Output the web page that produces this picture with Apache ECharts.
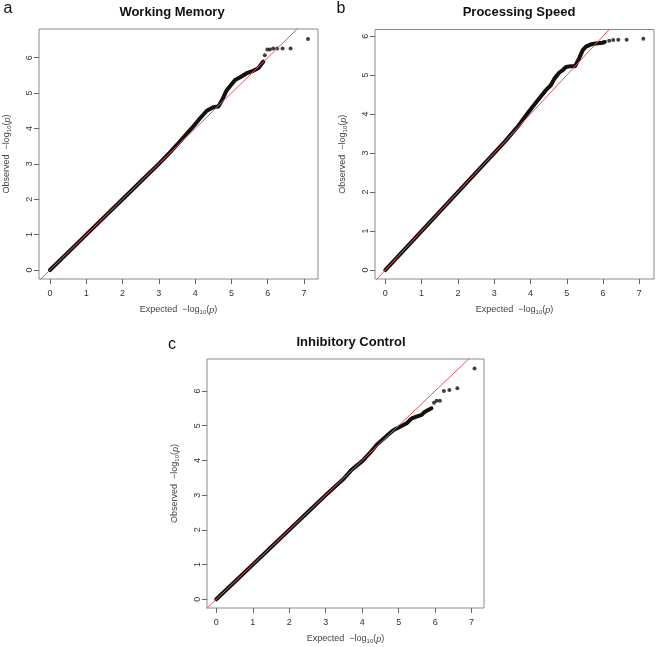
<!DOCTYPE html>
<html>
<head>
<meta charset="utf-8">
<script src="https://cdn.jsdelivr.net/npm/echarts@6/dist/echarts.min.js"></script>
<style>
  html, body { margin: 0; padding: 0; background: #fff; }
  #qq-chart { width: 656px; height: 647px; }
</style>
</head>
<body>
<div id="qq-chart"></div>
<script>
// expected vs observed -log10(p)
var wmExpected = [0, 0.5, 1, 1.5, 2, 2.5, 3, 3.3, 3.5, 3.9, 4.13, 4.32, 4.5, 4.64, 4.73, 4.87, 5.1, 5.23, 5.42, 5.6, 5.74, 5.88];
var wmObserved = [0, 0.5, 1, 1.5, 2, 2.5, 3, 3.32, 3.54, 4.0, 4.28, 4.5, 4.6, 4.62, 4.78, 5.08, 5.37, 5.44, 5.56, 5.63, 5.7, 5.89];
var wmTailExpected = [5.92, 5.99, 6.06, 6.15, 6.26, 6.41, 6.63, 7.11];
var wmTailObserved = [6.07, 6.23, 6.23, 6.26, 6.26, 6.26, 6.26, 6.53];

var psExpected = [0, 0.5, 1, 1.5, 2, 2.5, 3, 3.3, 3.65, 3.88, 4.06, 4.24, 4.43, 4.56, 4.66, 4.79, 4.89, 4.98, 5.11, 5.23, 5.34, 5.44, 5.53, 5.67, 5.8, 5.99, 6.05];
var psObserved = [0, 0.5, 1, 1.5, 2, 2.5, 3, 3.3, 3.68, 3.97, 4.19, 4.4, 4.62, 4.74, 4.91, 5.06, 5.13, 5.21, 5.23, 5.23, 5.43, 5.64, 5.73, 5.79, 5.81, 5.83, 5.85];
var psTailExpected = [6.17, 6.28, 6.42, 6.65, 7.11];
var psTailObserved = [5.88, 5.9, 5.91, 5.91, 5.93];

var icExpected = [0, 0.5, 1, 1.5, 2, 2.5, 3, 3.5, 3.7, 4.0, 4.2, 4.4, 4.67, 4.85, 5.04, 5.22, 5.36, 5.49, 5.63, 5.72, 5.81, 5.9];
var icObserved = [0, 0.5, 1, 1.5, 2, 2.5, 3, 3.48, 3.72, 3.98, 4.2, 4.45, 4.7, 4.87, 4.97, 5.07, 5.21, 5.26, 5.31, 5.4, 5.45, 5.5];
var icTailExpected = [5.97, 6.04, 6.13, 6.24, 6.39, 6.61, 7.08];
var icTailObserved = [5.66, 5.72, 5.72, 6.0, 6.03, 6.08, 6.65];

// tick range shown on each axis (first, last)
var xTickRange = [0, 7];
var yTickRangeA = [0, 6];
var yTickRangeB = [0, 6];
var yTickRangeC = [0, 6];

var panelTitles = ['Working Memory', 'Processing Speed', 'Inhibitory Control'];
var panelLetters = ['a', 'b', 'c'];

function pairs(xs, ys) {
    return xs.map(function (x, i) { return [x, ys[i]]; });
}

var font = 'Liberation Sans, Arial, sans-serif';
var nameRich = {
    t: { fontSize: 9, color: '#444', fontFamily: font, lineHeight: 12 },
    s: { fontSize: 6, color: '#444', fontFamily: font, padding: [5, 0, 0, 0], lineHeight: 12 },
    i: { fontSize: 9, color: '#444', fontFamily: font, fontStyle: 'italic', lineHeight: 12 }
};

var panels = [
    { grid: { left: 39, top: 29, width: 279, height: 250 }, x: [-0.303, 7.385], y: [-0.254, 6.81], yTick: yTickRangeA,
      dense: pairs(wmExpected, wmObserved), tail: pairs(wmTailExpected, wmTailObserved) },
    { grid: { left: 375, top: 29.5, width: 279, height: 249.5 }, x: [-0.284, 7.404], y: [-0.23, 6.17], yTick: yTickRangeB,
      dense: pairs(psExpected, psObserved), tail: pairs(psTailExpected, psTailObserved) },
    { grid: { left: 207, top: 359, width: 277, height: 249 }, x: [-0.255, 7.34], y: [-0.25, 6.92], yTick: yTickRangeC,
      dense: pairs(icExpected, icObserved), tail: pairs(icTailExpected, icTailObserved) }
];

var boxGrey = '#8a8a8a';
var tickGrey = '#666';
var tickLen = 5;
var grids = [], xAxes = [], yAxes = [], series = [];

// data axis: no line / ticks / labels, only the axis title (centred on the box like R)
function dataAxis(gi, range, name, gap, rotate) {
    return {
        type: 'value', gridIndex: gi, min: range[0], max: range[1],
        axisLine: { show: false, onZero: false }, axisTick: { show: false },
        axisLabel: { show: false }, splitLine: { show: false },
        name: name, nameLocation: 'middle', nameGap: gap, nameRotate: rotate,
        nameTextStyle: { rich: nameRich }
    };
}

panels.forEach(function (p, i) {
    var g = p.grid;
    // pixel of a value along the box, used only to line the tick strips up with the data axes
    var px = function (v) { return g.left + (v - p.x[0]) / (p.x[1] - p.x[0]) * g.width; };
    var py = function (v) { return g.top + (p.y[1] - v) / (p.y[1] - p.y[0]) * g.height; };

    var gi = grids.length;
    grids.push(Object.assign({ show: true, borderColor: boxGrey, borderWidth: 1, outerBoundsMode: 'none' }, g));
    // strip under the box for the x ticks, strip left of the box for the y ticks (R style outward ticks)
    grids.push({ left: px(xTickRange[0]), width: px(xTickRange[1]) - px(xTickRange[0]),
                 top: g.top + g.height, height: tickLen, outerBoundsMode: 'none' });
    grids.push({ left: g.left - tickLen, width: tickLen,
                 top: py(p.yTick[1]), height: py(p.yTick[0]) - py(p.yTick[1]), outerBoundsMode: 'none' });

    var xi = xAxes.length, yi = yAxes.length;
    xAxes.push(dataAxis(gi, p.x, '{t|Expected  \u2212log}{s|10}{t|(}{i|p}{t|)}', 25, 0));
    yAxes.push(dataAxis(gi, p.y, '{t|Observed  \u2212log}{s|10}{t|(}{i|p}{t|)}', 26, 90));

    xAxes.push({
        type: 'value', gridIndex: gi + 1, min: xTickRange[0], max: xTickRange[1], interval: 1, position: 'bottom',
        axisLine: { show: false, onZero: false }, axisTick: { show: false },
        splitLine: { show: true, showMinLine: true, showMaxLine: true, lineStyle: { color: tickGrey, width: 1 } },
        axisLabel: { fontSize: 9, color: '#333', margin: 5, fontFamily: font, showMinLabel: true, showMaxLabel: true }
    });
    yAxes.push({ type: 'value', gridIndex: gi + 1, min: 0, max: 1, show: false });

    xAxes.push({ type: 'value', gridIndex: gi + 2, min: 0, max: 1, show: false });
    yAxes.push({
        type: 'value', gridIndex: gi + 2, min: p.yTick[0], max: p.yTick[1], interval: 1, position: 'left',
        axisLine: { show: false, onZero: false }, axisTick: { show: false },
        splitLine: { show: true, showMinLine: true, showMaxLine: true, lineStyle: { color: tickGrey, width: 1 } },
        axisLabel: { fontSize: 9, color: '#333', margin: 0, rotate: 90, fontFamily: font, showMinLabel: true, showMaxLabel: true }
    });

    series.push({
        type: 'line', xAxisIndex: xi, yAxisIndex: yi, data: p.dense,
        showSymbol: false, smooth: false, z: 2,
        lineStyle: { color: '#111', width: 4, cap: 'round', join: 'round' }
    });
    series.push({
        type: 'scatter', xAxisIndex: xi, yAxisIndex: yi, data: p.tail,
        symbolSize: 4, z: 2, itemStyle: { color: '#111' }
    });
    // y = x reference line
    series.push({
        type: 'line', xAxisIndex: xi, yAxisIndex: yi, data: [[-1, -1], [8, 8]],
        showSymbol: false, clip: true, z: 3,
        lineStyle: { color: '#e5565a', width: 1 }
    });
});

var labelPos = [
    { title: [172, 12], letter: [8, 9] },
    { title: [519, 12], letter: [341, 9] },
    { title: [351, 342], letter: [172, 345] }
];
var graphics = [];
labelPos.forEach(function (l, i) {
    graphics.push({
        type: 'text', x: l.title[0], y: l.title[1],
        style: { text: panelTitles[i], font: 'bold 13px ' + font, fill: '#111', align: 'center', verticalAlign: 'middle' }
    });
    graphics.push({
        type: 'text', x: l.letter[0], y: l.letter[1],
        style: { text: panelLetters[i], font: '16px ' + font, fill: '#111', align: 'center', verticalAlign: 'middle' }
    });
});

var chart = echarts.init(document.getElementById('qq-chart'));
chart.setOption({
    animation: false,
    backgroundColor: '#fff',
    grid: grids,
    xAxis: xAxes,
    yAxis: yAxes,
    series: series,
    graphic: graphics
});
</script>
</body>
</html>
